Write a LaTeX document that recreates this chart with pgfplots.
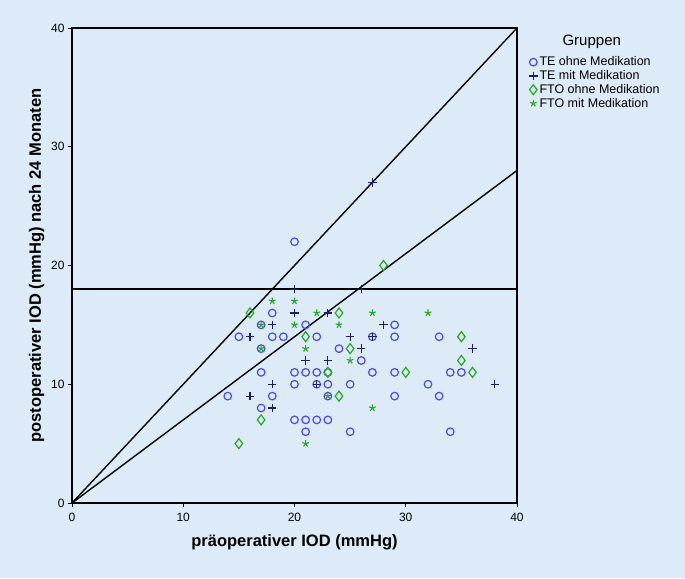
\documentclass[border=0pt]{standalone}
\usepackage{pgfplots}
\pgfplotsset{compat=1.18}
\usepackage{fontspec}
\setmainfont{Liberation Sans}
\definecolor{bgblue}{HTML}{DDEAF7}
\definecolor{teo}{HTML}{4B4BF0}
\definecolor{tem}{HTML}{1C1C6A}
\definecolor{fto}{HTML}{22AA22}
\begin{document}
\begin{tikzpicture}
\fill[bgblue] (-72pt,-75pt) rectangle (613pt,503pt);
\begin{axis}[
  at={(0pt,0pt)}, anchor=south west,
  scale only axis, width=445pt, height=475pt,
  xmin=0, xmax=40, ymin=0, ymax=40,
  xtick={0,10,20,30,40}, ytick={0,10,20,30,40},
  tick align=outside, xtick pos=bottom, ytick pos=left,
  major tick length=4pt,
  axis line style={line width=1.6pt},
  tick style={black, line width=0.7pt},
  /pgf/number format/assume math mode=true,
  ticklabel style={font=\fontsize{12}{14}\selectfont},
  xticklabel style={yshift=-3pt},
  xlabel={\bfseries präoperativer IOD (mmHg)},
  ylabel={\bfseries postoperativer IOD (mmHg) nach 24 Monaten},
  label style={font=\fontsize{16.5}{18}\selectfont},
  xlabel style={yshift=-6pt},
  ylabel style={yshift=0pt},
  axis background/.style={fill=bgblue},
  clip=false,
  legend style={at={(1.02,0.948)}, anchor=north west, draw=none, fill=none,
    font=\fontsize{12.5}{14}\selectfont, row sep=-0.8pt,
    legend cell align=left},
  legend image code/.code={\draw[#1] plot coordinates {(0.12cm,0cm)};},
]
\addplot[only marks, mark=o, mark size=3.8pt, color=teo, line width=1.2pt] coordinates {
(20,22) (18,16) (17,15) (21,15) (29,15) (15,14) (18,14) (19,14) (22,14) (27,14)
(29,14) (33,14) (17,13) (24,13) (26,12) (17,11) (20,11) (21,11) (22,11) (23,11)
(27,11) (29,11) (34,11) (35,11) (20,10) (22,10) (23,10) (25,10) (32,10) (14,9)
(18,9) (23,9) (29,9) (33,9) (17,8) (20,7) (21,7) (22,7) (23,7) (21,6) (25,6) (34,6)
};
\addlegendentry{TE ohne Medikation}
\addplot[only marks, mark=+, mark size=4.2pt, color=tem, line width=1.2pt] coordinates {
(27,27) (20,18) (26,18) (20,16) (23,16) (18,15) (28,15) (16,14) (25,14) (27,14)
(26,13) (36,13) (21,12) (23,12) (18,10) (22,10) (38,10) (16,9) (18,8)
};
\addlegendentry{TE mit Medikation}
\addplot[only marks, mark=diamond, mark size=5pt, color=fto, line width=1.2pt] coordinates {
(28,20) (16,16) (24,16) (21,14) (35,14) (25,13) (35,12) (23,11) (30,11) (36,11)
(24,9) (17,7) (15,5)
};
\addlegendentry{FTO ohne Medikation}
\addplot[only marks, mark=star, mark size=3.5pt, color=fto, line width=1.1pt] coordinates {
(18,17) (20,17) (22,16) (27,16) (32,16) (17,15) (20,15) (24,15) (17,13) (21,13)
(25,12) (23,9) (27,8) (21,5)
};
\addlegendentry{FTO mit Medikation}
\addplot[black, line width=1.4pt, forget plot] coordinates {(0,0) (40,40)};
\addplot[black, line width=1.4pt, forget plot] coordinates {(0,0) (40,28)};
\addplot[black, line width=1.9pt, forget plot] coordinates {(0,18) (40,18)};
\node[anchor=center, font=\fontsize{15}{17}\selectfont] at (rel axis cs:1.168,0.97) {Gruppen};
\end{axis}
\end{tikzpicture}
\end{document}
